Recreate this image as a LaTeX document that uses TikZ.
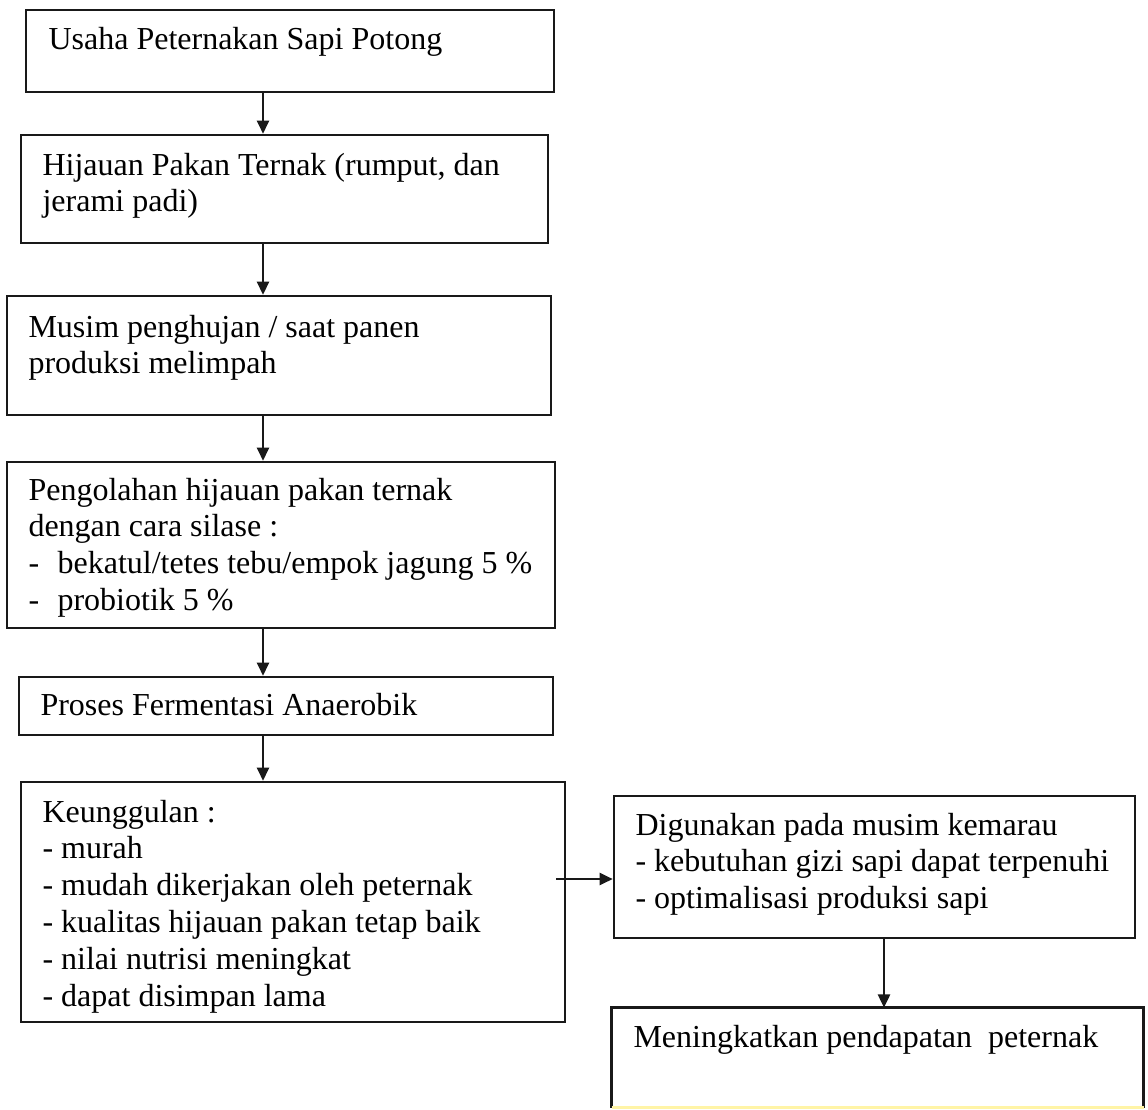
\documentclass[tikz,border=0pt]{standalone}
\usepackage{fontspec}
\setmainfont{Liberation Serif}
\usetikzlibrary{arrows.meta}
\begin{document}
\begin{tikzpicture}[x=0.375pt,y=-0.375pt,
  box/.style={draw=black!90, line width=1pt, rectangle, inner sep=0pt},
  nobox/.style={rectangle, inner sep=0pt},
  txt/.style={anchor=base west, inner sep=0pt, font=\fontsize{12}{13.8}\selectfont},
  arr/.style={draw=black!90, line width=0.65pt, -{Triangle[length=4.9pt,width=4.6pt]}}]
\useasboundingbox[fill=white] (0,0) rectangle (1148,1109);

% boxes
\node[box, minimum width=198pt, minimum height=30.75pt] (b1) at (290,51) {};
\node[box, minimum width=197.6pt, minimum height=40.5pt] (b2) at (284.5,189) {};
\node[box, minimum width=204pt, minimum height=44.6pt] (b3) at (279,355.5) {};
\node[box, minimum width=205.5pt, minimum height=62.25pt] (b4) at (281,545) {};
\node[box, minimum width=200.25pt, minimum height=21.75pt] (b5) at (286,706) {};
\node[box, minimum width=204pt, minimum height=90pt] (b6) at (293,902) {};
\node[box, minimum width=195.4pt, minimum height=53.25pt] (b7) at (874.5,867) {};
\node[nobox, minimum width=199.1pt, minimum height=37.1pt] (b8) at (877.5,1057.5) {};
\draw[black!90, line width=1pt] (b8.south west) -- (b8.north west) -- (b8.north east) -- (b8.south east);
\draw[orange!25!yellow!35, line width=1pt] (b8.south west) -- (b8.south east);

% texts
\node[txt] (t1) at (48,50) {\parbox[t]{230pt}{\raggedright Usaha Peternakan Sapi Potong}};
\node[txt] (t2) at (42,175) {\parbox[t]{230pt}{\raggedright Hijauan Pakan Ternak (rumput, dan\\jerami padi)}};
\node[txt] (t3) at (28,337) {\parbox[t]{230pt}{\raggedright Musim penghujan / saat panen\\produksi melimpah}};
\node[txt] (t4) at (28,500) {\parbox[t]{230pt}{\raggedright Pengolahan hijauan pakan ternak\\dengan cara silase :\\\makebox[10.9pt][l]{-}bekatul/tetes tebu/empok jagung 5 \%\\\makebox[10.9pt][l]{-}probiotik 5 \%}};
\node[txt] (t5) at (40,715) {\parbox[t]{230pt}{\raggedright Proses Fermentasi Anaerobik}};
\node[txt] (t6) at (42,822) {\parbox[t]{230pt}{\raggedright Keunggulan :\\- murah\\- mudah dikerjakan oleh peternak\\- kualitas hijauan pakan tetap baik\\- nilai nutrisi meningkat\\- dapat disimpan lama}};
\node[txt] (t7) at (635,835) {\parbox[t]{230pt}{\raggedright Digunakan pada musim kemarau\\- kebutuhan gizi sapi dapat terpenuhi\\- optimalisasi produksi sapi}};
\node[txt] (t8) at (633,1047) {\parbox[t]{230pt}{\raggedright Meningkatkan pendapatan\ \ peternak}};

% connectors
\coordinate (ax) at (263,0);
\draw[arr] (b1.south -| ax) -- (b2.north -| ax);
\draw[arr] (b2.south -| ax) -- (b3.north -| ax);
\draw[arr] (b3.south -| ax) -- (b4.north -| ax);
\draw[arr] (b4.south -| ax) -- (b5.north -| ax);
\draw[arr] (b5.south -| ax) -- (b6.north -| ax);
\coordinate (s6) at ([xshift=-3.75pt,yshift=8.625pt]b6.east);
\draw[arr] (s6) -- (s6 -| b7.west);
\coordinate (s7) at ([xshift=3.56pt]b7.south);
\draw[arr] (s7) -- (s7 |- b8.north);
\end{tikzpicture}
\end{document}
